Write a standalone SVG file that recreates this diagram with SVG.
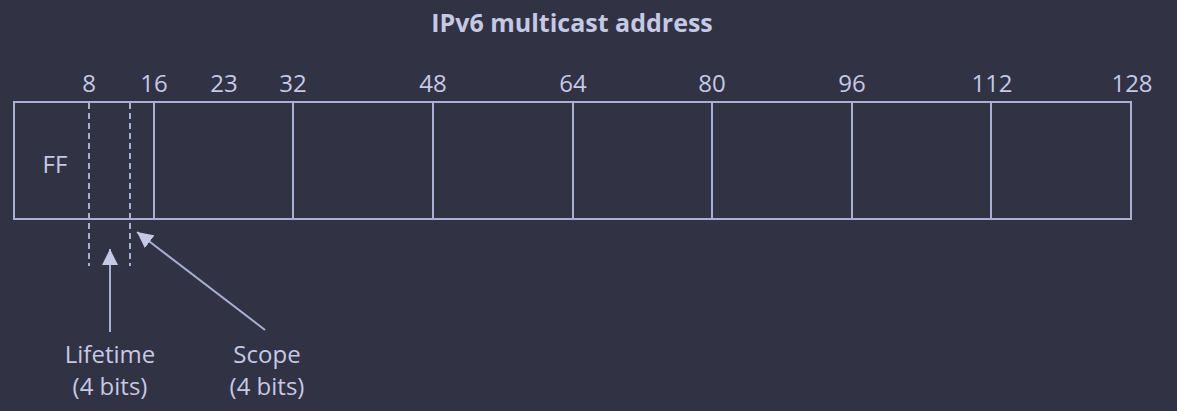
<svg xmlns="http://www.w3.org/2000/svg" width="1177" height="411" viewBox="0 0 1177 411">
<defs>
<style>
.ln{stroke:#aab0d2;stroke-width:2;fill:none}
.dash{stroke:#aab0d2;stroke-width:2;stroke-dasharray:6 4;fill:none}
.t{font-family:"Open Sans","Noto Sans",sans-serif;font-size:24px;fill:#c5c9e4;text-anchor:middle}
.title{font-family:"Open Sans","Noto Sans",sans-serif;font-size:25px;font-weight:bold;fill:#c5c9e4;text-anchor:middle}
</style>
<marker id="ah2" viewBox="0 0 16 16" refX="16" refY="8" markerWidth="16" markerHeight="16" markerUnits="userSpaceOnUse" orient="auto">
<path d="M0,0 L16,8 L0,16 z" fill="#c5c9e4"/>
</marker>
</defs>
<rect width="1177" height="411" fill="#313244"/>
<text class="title" x="572" y="32">IPv6 multicast address</text>
<g id="address">
<rect class="ln" x="14" y="102" width="1117" height="117"/>
<line class="ln" x1="154" y1="102" x2="154" y2="219"/>
<line class="ln" x1="293" y1="102" x2="293" y2="219"/>
<line class="ln" x1="433" y1="102" x2="433" y2="219"/>
<line class="ln" x1="573" y1="102" x2="573" y2="219"/>
<line class="ln" x1="712" y1="102" x2="712" y2="219"/>
<line class="ln" x1="852" y1="102" x2="852" y2="219"/>
<line class="ln" x1="991" y1="102" x2="991" y2="219"/>
<line class="dash" x1="89" y1="103" x2="89" y2="266"/>
<line class="dash" x1="130" y1="103" x2="130" y2="266"/>
<text class="t" x="55" y="173">FF</text>
</g>
<g id="scale">
<text class="t" x="89" y="92">8</text>
<text class="t" x="154" y="92">16</text>
<text class="t" x="224" y="92">23</text>
<text class="t" x="293" y="92">32</text>
<text class="t" x="433" y="92">48</text>
<text class="t" x="573" y="92">64</text>
<text class="t" x="712" y="92">80</text>
<text class="t" x="852" y="92">96</text>
<text class="t" x="992" y="92">112</text>
<text class="t" x="1132" y="92">128</text>
</g>
<g id="connectors">
<line class="ln" x1="110" y1="332" x2="110" y2="249" marker-end="url(#ah2)"/>
<line class="ln" x1="265" y1="330" x2="137" y2="232" marker-end="url(#ah2)"/>
</g>
<g id="lifetime">
<text class="t" x="110" y="363">Lifetime</text>
<text class="t" x="110" y="395">(4 bits)</text>
</g>
<g id="scope">
<text class="t" x="267" y="363">Scope</text>
<text class="t" x="267" y="395">(4 bits)</text>
</g>
</svg>
